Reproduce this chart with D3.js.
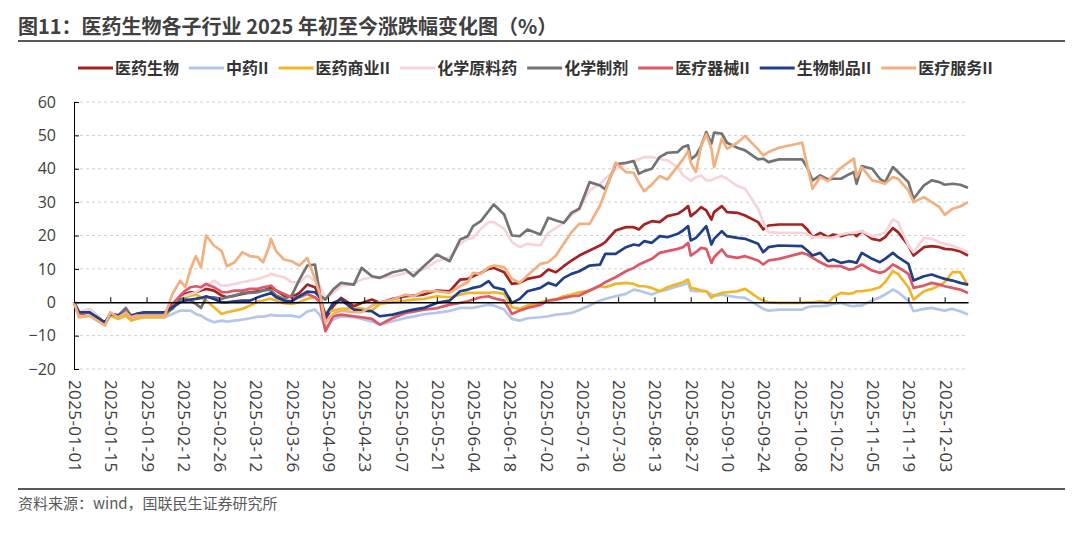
<!DOCTYPE html>
<html>
  <head>
    <meta charset="utf-8" />
    <title>医药生物各子行业 2025 年初至今涨跌幅变化图</title>
    <style>
      body {
        margin: 0;
        background: #fff;
      }
      svg text {
        font-family: "Open Sans", "Noto Sans CJK SC", sans-serif;
      }
      .cjk {
        font-family: "Noto Sans CJK SC", sans-serif;
      }
    </style>
    <script src="https://d3js.org/d3.v7.min.js"></script>
  </head>
  <body>
    <div id="chart"></div>

    <script type="text/javascript">
      //Width and height
      var w = 1080;
      var h = 534;

      // sampled dates (calendar days, holidays carried flat)
      var dates = [
        "2025-01-01","2025-01-03","2025-01-07","2025-01-10","2025-01-13","2025-01-15","2025-01-18","2025-01-21","2025-01-23","2025-01-25",
        "2025-01-28","2025-02-05","2025-02-08","2025-02-11","2025-02-13","2025-02-15","2025-02-17","2025-02-19","2025-02-21","2025-02-24",
        "2025-02-27","2025-03-01","2025-03-04","2025-03-07","2025-03-10","2025-03-13","2025-03-15","2025-03-17","2025-03-18","2025-03-20",
        "2025-03-23","2025-03-26","2025-03-29","2025-04-01","2025-04-04","2025-04-06","2025-04-08","2025-04-11","2025-04-14","2025-04-19",
        "2025-04-22","2025-04-26","2025-04-29","2025-05-04","2025-05-09","2025-05-12","2025-05-16","2025-05-21","2025-05-26","2025-05-30",
        "2025-06-02","2025-06-04","2025-06-07","2025-06-10","2025-06-12","2025-06-16","2025-06-19","2025-06-22","2025-06-25","2025-06-30",
        "2025-07-03","2025-07-06","2025-07-09","2025-07-12","2025-07-15","2025-07-19","2025-07-23","2025-07-25","2025-07-29","2025-08-02",
        "2025-08-05","2025-08-07","2025-08-09","2025-08-12","2025-08-15","2025-08-18","2025-08-22","2025-08-24","2025-08-26","2025-08-27",
        "2025-08-29","2025-08-31","2025-09-02","2025-09-04","2025-09-05","2025-09-08","2025-09-10","2025-09-14","2025-09-17","2025-09-22",
        "2025-09-24","2025-09-26","2025-09-30","2025-10-09","2025-10-11","2025-10-13","2025-10-16","2025-10-19","2025-10-21","2025-10-24",
        "2025-10-27","2025-10-29","2025-10-30","2025-11-01","2025-11-05","2025-11-08","2025-11-10","2025-11-13","2025-11-15","2025-11-19",
        "2025-11-21","2025-11-25","2025-11-28","2025-12-01","2025-12-03","2025-12-06","2025-12-09","2025-12-12"
      ];

      // 医药生物
      var yiyao = [
        0, -3.5, -3, -5, -6.5, -3.5, -4, -2.5, -4.5, -4,
        -3.5, -3.5, -0.5, 1.5, 2.5, 3, 3, 3.5, 4, 3.5,
        2, 1.5, 2, 2.5, 3, 3.3, 3.5, 4, 4.5, 3.5,
        2, 1.5, 2.8, 5.3, 4.5, 1, -5, -1.2, 1.3, -1.2,
        -0.2, 0.8, -0.2, 1, 1.8, 2, 2.3, 3.5, 3.3, 6.8,
        7, 7.8, 8.8, 10, 10.3, 9, 5.5, 5.8, 7, 7.8,
        9.8, 9, 10.8, 12.5, 14, 15.5, 17, 18, 21.5, 22.5,
        22.5, 21.8, 23.3, 24.3, 24, 25.8, 26.5, 27.5, 28.8, 25.8,
        27, 28.5, 27.5, 24.8, 27, 28.8, 27, 26.8, 26, 24,
        21.8, 23, 23.3, 23.3, 21.8, 19.5, 20.8, 19.5, 20.3, 19.8,
        20.5, 20.5, 19.8, 21.3, 19, 18.5, 19.5, 22.2, 21, 17,
        14, 16.5, 16.8, 16.5, 16, 15.8, 15.2, 14
      ];

      // 中药II
      var zhongyao = [
        0, -3, -2, -4, -6.5, -4, -4.5, -3.5, -4.5, -4.5,
        -4.5, -4.5, -3.5, -2.5, -2.5, -2.5, -3.5, -4, -5, -6,
        -5.5, -5.8, -5.5, -5.2, -4.8, -4.3, -4.3, -4, -3.8, -4,
        -4, -4, -4.5, -2.8, -2.2, -4, -7.7, -5.2, -4.2, -4.5,
        -5, -5.8, -6.7, -5.7, -4.7, -4.3, -3.6, -3.2, -2.6, -1.7,
        -1.7, -1.7, -1.2, -0.7, -1, -2.2, -5, -5.5, -4.8, -4.5,
        -4.2, -3.7, -3.5, -3.2, -2.3, -1, 0.5, 1, 1.8, 2.5,
        3.8, 3.5, 3, 2.3, 3.3, 3.8, 4.8, 5.2, 5.8, 3.5,
        3.3, 3.3, 3.3, 2.3, 1.8, 2.3, 2, 1.5, 1.3, -1,
        -2, -2.5, -2.2, -2.2, -1.5, -1.2, -1.2, -1, -0.5, -0.2,
        -1, -1.2, -1, -1, 0.5, 1.5, 2.3, 3.8, 3, 0.5,
        -2.7, -2, -1.7, -2.2, -2.5, -2, -2.7, -3.7
      ];

      // 医药商业II
      var shangye = [
        0, -4.5, -4, -5.5, -6.5, -4, -5, -4, -5.5, -5,
        -4.5, -4.5, -1.5, 0.5, 1.5, 2, 2.3, 1.5, 0.5, -1.5,
        -3.5, -3, -2.5, -2, -1, 0.3, 0.5, 1, 1, 0.5,
        -0.3, -0.5, 0, 1, 1.5, 0, -3, -2.5, -2, -1.8,
        -1.8, -2.5, -0.5, 0, 0.5, 0.8, 1, 1.8, 1.5, 2.3,
        2.8, 2.8, 2.8, 2.8, 3, 2.5, -1.5, -2, -1, 0,
        0.5, 1, 1.8, 2.3, 3, 3.5, 4.8, 4.5, 5.5, 5.8,
        5.5, 4.8, 4.8, 4.3, 3.3, 4.5, 5.5, 6, 6.8, 4.3,
        4, 3.5, 3.3, 1.3, 2, 2.8, 3, 3.3, 4, 1.3,
        0.5, 0, -0.2, -0.2, 0, 0, 0.3, -0.2, 1.5, 2.8,
        2.5, 2.8, 3.3, 3.3, 3.8, 4.5, 6, 9.3, 8.5, 4.5,
        0.8, 3.3, 4, 5, 6, 9, 9, 5
      ];

      // 化学原料药
      var yuanliao = [
        0, -3, -2, -4.5, -6.5, -3.5, -4, -3, -4.5, -4,
        -4, -4, -1, 1, 2, 2.5, 3, 4, 5, 6.5,
        5, 5, 5.5, 6, 6.5, 7, 7.5, 8, 8.5, 8,
        7.5, 6, 6, 8, 6.5, 4.8, 1.3, 2.8, 4.8, 5.5,
        6.8, 7.5, 7.3, 7.8, 8.8, 9, 9.8, 12.3, 13.5, 17.5,
        19, 19.3, 22, 24, 24, 22, 18, 16.5, 17.5, 17,
        20.8, 22.3, 23.8, 26, 28, 33.5, 35.5, 37, 39.8, 41.5,
        42.3, 42.8, 43.5, 43.5, 43, 42.5, 40.5, 38, 37, 36.3,
        37.5, 38, 36.5, 36.5, 37, 37.8, 37, 34.8, 34, 28,
        24, 21, 20.8, 20.8, 20.5, 19.5, 19.5, 19.3, 19.3, 20.3,
        20.8, 20.8, 21, 21.3, 19.8, 20.3, 20.8, 24.8, 24, 17,
        15, 19.3, 19, 18, 17.5, 17, 16, 15
      ];

      // 化学制剂
      var zhiji = [
        0, -3.5, -3, -5, -6.5, -3.5, -4, -1.7, -4, -4,
        -3.5, -3.5, -2, 1, 1, 0.5, -0.5, -1.7, 1.5, 1.5,
        1, 1.5, 2, 2.8, 2.8, 3, 3.5, 3.8, 3.5, 2,
        1, 2, 6.8, 11, 11.3, 2, 0.8, 3.8, 5.8, 5.3,
        10.3, 7.8, 7.3, 9, 9.8, 7.8, 10.8, 14.3, 12.3, 18.8,
        19.8, 22.8, 24.3, 27.3, 29.3, 26.3, 20, 19.8, 21.8, 20.3,
        25.3, 24.5, 23.8, 26.8, 28, 36, 35, 33.8, 41.3, 41.8,
        42.3, 38.5, 39.3, 40, 43.5, 44.8, 45, 46.5, 47, 42.8,
        44, 46.8, 51, 47.5, 50.8, 50.5, 47.8, 46.3, 45.5, 42.8,
        43, 42, 42.8, 42.8, 40.3, 36.5, 38, 36.8, 37, 37,
        38.3, 39, 35.5, 40.8, 40, 37, 36, 40.5, 39, 36,
        31, 35, 36.5, 36, 35.2, 35.5, 35.2, 34.3
      ];

      // 医疗器械II
      var qixie = [
        0, -3.5, -3, -5, -6.5, -3.5, -4, -3, -4.5, -4,
        -4, -4, -0.5, 2, 3.5, 4.5, 4.8, 4.5, 5.5, 4.5,
        3, 3, 3.5, 3.5, 4, 4, 4.5, 4.8, 5, 3.5,
        2.5, 1.5, 1.5, 2.5, 1.5, 0, -8.7, -4.2, -3.7, -4.2,
        -4.5, -5, -6.7, -4.7, -3.2, -2.8, -2.2, -1.8, -0.7, -0.2,
        0.3, 0.8, 1.5, 1.8, 1.2, 0.5, -3.5, -2.5, -1.7, -0.8,
        0.5, 0.8, 1.3, 1.8, 2, 3.5, 5, 6, 7.5, 9.3,
        10.3, 11.3, 12, 13, 14.8, 15.3, 16, 16.5, 17.8, 14,
        15, 16.3, 16, 11.8, 13.5, 15.8, 13.8, 13.3, 13.8, 12.5,
        11.3, 12.5, 13, 14.8, 14.3, 13.3, 12, 10.8, 10.8, 10.8,
        9.8, 10, 10.5, 11.3, 9.5, 8.8, 9.3, 11.3, 10.5, 8.5,
        4.3, 5, 5.8, 5.3, 4.8, 4.3, 3.8, 2.8
      ];

      // 生物制品II
      var shengwu = [
        0, -3, -3, -4.5, -6, -3.5, -4, -3, -4, -3.5,
        -3, -3, -1.5, 0, 0.5, 0.8, 1, 1.3, 1.8, 1,
        0, 0, 0.3, 0.5, 0.5, 1.5, 2, 2.5, 2.8, 1.5,
        0.5, 0.3, 1.8, 3.2, 3, 1.5, -4.2, -0.2, 0.8, -2.2,
        -2.5, -2.7, -4.2, -3.7, -2.7, -2.2, -1.7, -0.2, 0.5, 3.3,
        3.8, 4.3, 4.8, 6.3, 4.5, 3.8, -0.2, 1, 3.3, 4.3,
        5.8, 5, 7.3, 8.5, 9.3, 11, 11.3, 14.5, 14.5, 16.5,
        17.3, 17, 18.3, 17.8, 19.8, 19.5, 20.5, 21.5, 22.8, 18.5,
        19.3, 21, 22.8, 17.3, 19, 21.3, 19.8, 19.3, 19, 17.5,
        15, 16.5, 17, 16.8, 15.5, 14, 14.8, 12.3, 12.8, 11.8,
        12.3, 12, 11.8, 14.8, 13, 12, 13, 14.8, 13.5, 11.5,
        6.5, 7.8, 8.3, 7.5, 7, 6.5, 5.8, 5.3
      ];

      // 医疗服务II
      var fuwu = [
        0, -4.5, -4, -5.5, -7, -3, -4.5, -3, -4.5, -4,
        -4, -4, 2.5, 6.5, 4.5, 10, 13.8, 10.5, 20, 17,
        15.3, 10.8, 12, 15, 13.8, 13.5, 12, 16, 19, 15.3,
        12.8, 12.3, 11, 13.3, 7, 2, -6, -3.5, -2.5, -3,
        -3, -1, 0, 0.8, 2.3, 1.8, 3.3, 3.3, 2.8, 4.8,
        6, 8.8, 8.5, 10.5, 11, 10.5, 7, 5.8, 8, 11.5,
        12, 14, 17.5, 21, 23.5, 23.5, 29, 33, 41.8, 39,
        38.8, 35.8, 33.3, 35.3, 37.8, 36.8, 40.8, 42.8, 45.3, 41.8,
        39, 46.8, 50.3, 46, 40.5, 49, 46, 47.8, 49.8, 45.8,
        44, 45, 46.3, 47.8, 40.8, 34, 37.5, 36.3, 38, 40.3,
        42, 43, 37.5, 40.5, 36.5, 36, 35.5, 37.5, 37, 33.5,
        30, 31.5, 30, 28.5, 26.2, 28, 28.7, 30
      ];

      var seriesNames = ["医药生物", "中药II", "医药商业II", "化学原料药", "化学制剂", "医疗器械II", "生物制品II", "医疗服务II"];
      var seriesValues = [yiyao, zhongyao, shangye, yuanliao, zhiji, qixie, shengwu, fuwu];
      var seriesColors = ["#A42222", "#B4C7E7", "#F0B62A", "#F6D5D9", "#737373", "#DC5866", "#213F86", "#F2B080"];

      var yTicks = [-20, -10, 0, 10, 20, 30, 40, 50, 60];
      var xTickLabels = [
        "2025-01-01","2025-01-15","2025-01-29","2025-02-12","2025-02-26","2025-03-12","2025-03-26",
        "2025-04-09","2025-04-23","2025-05-07","2025-05-21","2025-06-04","2025-06-18","2025-07-02",
        "2025-07-16","2025-07-30","2025-08-13","2025-08-27","2025-09-10","2025-09-24","2025-10-08",
        "2025-10-22","2025-11-05","2025-11-19","2025-12-03"
      ];

      var parse = d3.timeParse("%Y-%m-%d");

      var x = d3
        .scaleTime()
        .domain([parse(dates[0]), parse(dates[dates.length - 1])])
        .range([74, 968]);

      var y = d3.scaleLinear().domain([-20, 60]).range([369, 102]);

      var svg = d3
        .select("#chart")
        .append("svg")
        .attr("width", w)
        .attr("height", h);

      // Title and rules
      svg
        .append("text")
        .attr("class", "cjk")
        .attr("x", 18)
        .attr("y", 34)
        .attr("font-size", 20)
        .attr("font-weight", "bold")
        .attr("fill", "#404040")
        .text("图11：医药生物各子行业 2025 年初至今涨跌幅变化图（%）");

      svg
        .append("line")
        .attr("x1", 18)
        .attr("x2", 1065)
        .attr("y1", 41)
        .attr("y2", 41)
        .attr("stroke", "#595959")
        .attr("stroke-width", 2);

      svg
        .append("line")
        .attr("x1", 18)
        .attr("x2", 1065)
        .attr("y1", 489)
        .attr("y2", 489)
        .attr("stroke", "#595959")
        .attr("stroke-width", 2);

      svg
        .append("text")
        .attr("class", "cjk")
        .attr("x", 18)
        .attr("y", 509)
        .attr("font-size", 15)
        .attr("fill", "#595959")
        .text("资料来源：wind，国联民生证券研究所");

      // Gridlines
      svg
        .append("g")
        .selectAll("line")
        .data(yTicks.filter(function (d) { return d !== 0; }))
        .enter()
        .append("line")
        .attr("x1", x.range()[0])
        .attr("x2", x.range()[1])
        .attr("y1", function (d) { return y(d); })
        .attr("y2", function (d) { return y(d); })
        .attr("stroke", "#D0D0D0")
        .attr("stroke-width", 1)
        .attr("stroke-dasharray", "3,3");

      // Y axis
      var yAxis = svg
        .append("g")
        .attr("transform", "translate(" + x.range()[0] + ",0)")
        .call(d3.axisLeft(y).tickValues(yTicks).tickSize(-5).tickSizeOuter(0).tickPadding(18));

      yAxis.select(".domain").attr("stroke", "#000");
      yAxis.selectAll(".tick line").attr("stroke", "#000");
      yAxis
        .selectAll("text")
        .attr("font-size", 16)
        .attr("fill", "#404040")
        .attr("font-family", "Open Sans");

      // Series lines
      var line = d3
        .line()
        .x(function (d) { return x(d.date); })
        .y(function (d) { return y(d.value); });

      seriesValues.forEach(function (vals, i) {
        var pts = dates.map(function (dt, j) {
          return { date: parse(dt), value: vals[j] };
        });
        svg
          .append("path")
          .datum(pts)
          .attr("fill", "none")
          .attr("stroke", seriesColors[i])
          .attr("stroke-width", 2.7)
          .attr("stroke-linejoin", "round")
          .attr("d", line);
      });

      // X axis on the zero line, ticks pointing up
      var tickDates = xTickLabels.map(parse);
      var xAxis = svg
        .append("g")
        .attr("transform", "translate(0," + y(0) + ")")
        .call(d3.axisTop(x).tickValues(tickDates).tickSize(5).tickSizeOuter(0).tickFormat(""));

      xAxis.select(".domain").attr("stroke", "#000").attr("stroke-width", 1.5);
      xAxis.selectAll(".tick line").attr("stroke", "#000");

      // X tick labels, rotated, below the plot
      svg
        .append("g")
        .selectAll("text")
        .data(xTickLabels)
        .enter()
        .append("text")
        .attr("transform", function (d) {
          return "translate(" + (x(parse(d)) + 1) + ",380)rotate(90)";
        })
        .attr("dy", "0.35em")
        .attr("font-size", 17)
        .attr("letter-spacing", "0.4px")
        .attr("font-family", "Open Sans")
        .attr("fill", "#404040")
        .text(function (d) { return d; });

      // Legend
      var legend = svg.append("g").attr("transform", "translate(0,68)");
      var lx = 78;
      seriesNames.forEach(function (name, i) {
        legend
          .append("line")
          .attr("x1", lx)
          .attr("x2", lx + 35)
          .attr("y1", 0)
          .attr("y2", 0)
          .attr("stroke", seriesColors[i])
          .attr("stroke-width", 3);
        var t = legend
          .append("text")
          .attr("class", "cjk")
          .attr("x", lx + 37)
          .attr("y", 0)
          .attr("dy", "0.35em")
          .attr("font-size", 16)
          .attr("font-weight", "bold")
          .attr("fill", "#333")
          .text(name);
        lx = lx + 37 + t.node().getComputedTextLength() + 10;
      });
    </script>
  </body>
</html>
